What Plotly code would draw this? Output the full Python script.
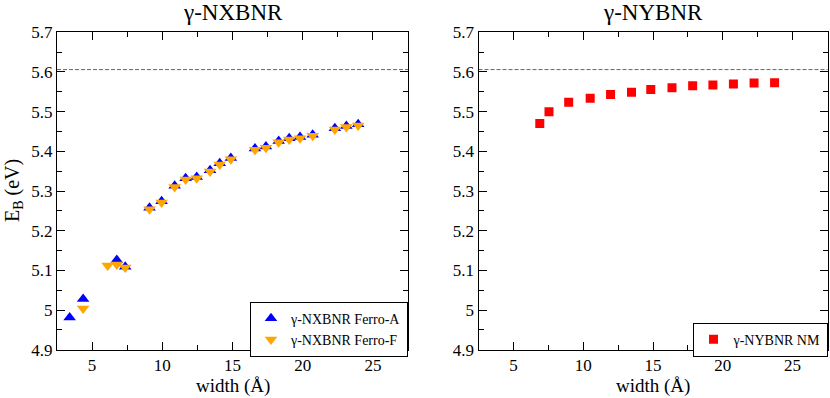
import plotly.graph_objects as go

# ---- data ----
nx_ferroA_x = [3.40, 4.36, 6.76, 7.36, 9.09, 9.95, 10.88, 11.66, 12.45, 13.40, 14.09, 14.88,
               16.60, 17.38, 18.29, 19.04, 19.81, 20.71, 22.29, 23.11, 23.95]
nx_ferroA_y = [4.981, 5.028, 5.126, 5.109, 5.258, 5.274, 5.313, 5.332, 5.335, 5.352, 5.370, 5.383,
               5.407, 5.412, 5.426, 5.433, 5.436, 5.442, 5.458, 5.464, 5.468]
nx_ferroF_x = [4.36, 6.11, 6.76, 7.36, 9.09, 9.95, 10.88, 11.66, 12.45, 13.40, 14.09, 14.88,
               16.60, 17.38, 18.29, 19.04, 19.81, 20.71, 22.29, 23.11, 23.95]
nx_ferroF_y = [5.004, 5.112, 5.115, 5.107, 5.254, 5.271, 5.310, 5.329, 5.332, 5.349, 5.367, 5.380,
               5.404, 5.409, 5.423, 5.430, 5.433, 5.439, 5.455, 5.461, 5.465]
ny_nm_x = [6.89, 7.55, 8.96, 10.50, 11.96, 13.46, 14.84, 16.36, 17.84, 19.29, 20.76, 22.24, 23.71]
ny_nm_y = [5.470, 5.500, 5.524, 5.534, 5.543, 5.549, 5.556, 5.560, 5.565, 5.567, 5.570, 5.572, 5.573]
ref_level = 5.606
panel_titles = ["γ-NXBNR", "γ-NYBNR"]
x_title = "width (Å)"
y_title = "E<sub>B</sub> (eV)"

FONT = "Liberation Serif, DejaVu Serif, serif"

fig = go.Figure()

fig.add_trace(go.Scatter(x=nx_ferroA_x, y=nx_ferroA_y, mode="markers", name="γ-NXBNR Ferro-A",
                         marker=dict(symbol="triangle-up", size=11, color="#0000ff"),
                         xaxis="x", yaxis="y", legend="legend"))
fig.add_trace(go.Scatter(x=nx_ferroF_x, y=nx_ferroF_y, mode="markers", name="γ-NXBNR Ferro-F",
                         marker=dict(symbol="triangle-down", size=11, color="#ffa500"),
                         xaxis="x", yaxis="y", legend="legend"))
fig.add_trace(go.Scatter(x=ny_nm_x, y=ny_nm_y, mode="markers", name="γ-NYBNR NM",
                         marker=dict(symbol="square", size=9, color="#ff0000"),
                         xaxis="x2", yaxis="y2", legend="legend2"))

xl = [57 / 830, 408 / 830]
xr = [478.5 / 830, 827.5 / 830]
yd = [1 - 349.7 / 398, 1 - 32.3 / 398]

axis_common = dict(showline=True, linecolor="black", linewidth=1, mirror="allticks",
                   ticks="inside", ticklen=8, tickcolor="black", tickwidth=1,
                   showgrid=False, zeroline=False, automargin=False,
                   tickfont=dict(family=FONT, size=17, color="black"))

xax = dict(axis_common, range=[2.5, 27.5], tick0=0, dtick=5,
           minor=dict(ticks="inside", ticklen=5, dtick=2.5, tick0=0, tickcolor="black", showgrid=False))
yax = dict(axis_common, range=[4.9, 5.7], tick0=4.9, dtick=0.1,
           minor=dict(ticks="inside", ticklen=5, dtick=0.05, tick0=4.9, tickcolor="black", showgrid=False))

leg_font = dict(family=FONT, size=14, color="black")
leg_y = yd[0] - 7 / 398
fig.update_layout(
    width=830, height=398,
    margin=dict(l=0, r=0, t=0, b=0, pad=0, autoexpand=False),
    paper_bgcolor="white", plot_bgcolor="white",
    font=dict(family=FONT, color="black"),
    xaxis=dict(xax, domain=xl, anchor="y"),
    yaxis=dict(yax, domain=yd, anchor="x"),
    xaxis2=dict(xax, domain=xr, anchor="y2"),
    yaxis2=dict(yax, domain=yd, anchor="x2"),
    legend=dict(x=xl[1], y=leg_y, xanchor="right", yanchor="bottom",
                bgcolor="white", bordercolor="black", borderwidth=1,
                font=leg_font, tracegroupgap=0, itemwidth=30),
    legend2=dict(x=xr[1], y=leg_y, xanchor="right", yanchor="bottom",
                 bgcolor="white", bordercolor="black", borderwidth=1,
                 font=leg_font, itemwidth=30),
    showlegend=True,
)

shapes = []
for xa, ya in (("x", "y"), ("x2", "y2")):
    shapes.append(dict(type="line", xref=f"{xa} domain", yref=ya, x0=0, x1=1,
                       y0=ref_level, y1=ref_level,
                       line=dict(color="#666666", width=1, dash="4px,2px"), layer="below"))
fig.update_layout(shapes=shapes)

annotations = []
for title, dom in zip(panel_titles, (xl, xr)):
    annotations.append(dict(text=title, x=(dom[0] + dom[1]) / 2, y=1 - 13 / 398,
                            xref="paper", yref="paper", showarrow=False,
                            xanchor="center", yanchor="middle",
                            font=dict(family=FONT, size=23, color="black")))
    annotations.append(dict(text=x_title, x=(dom[0] + dom[1]) / 2, y=1 - 386 / 398,
                            xref="paper", yref="paper", showarrow=False,
                            xanchor="center", yanchor="middle",
                            font=dict(family=FONT, size=19, color="black")))
annotations.append(dict(text=y_title, x=13 / 830, y=1 - 191 / 398, xref="paper", yref="paper",
                        showarrow=False, textangle=-90, xanchor="center", yanchor="middle",
                        font=dict(family=FONT, size=20, color="black")))
fig.update_layout(annotations=annotations)

fig.write_html("out.html", config={"displayModeBar": False},
               post_script="document.body.style.margin='0';document.body.style.padding='0';")
